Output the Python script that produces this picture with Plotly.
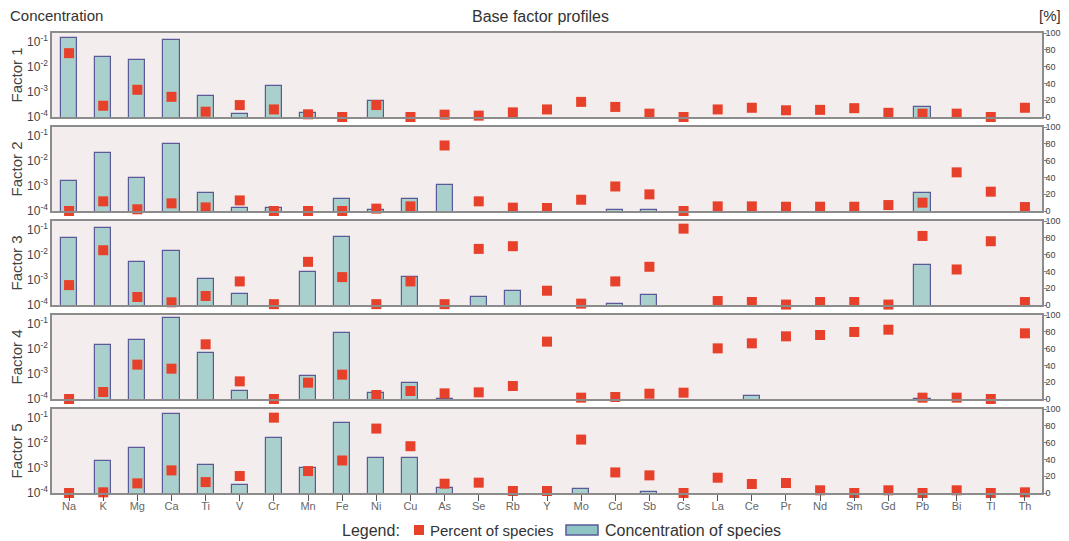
import plotly.graph_objects as go
from plotly.subplots import make_subplots

species = ["Na", "K", "Mg", "Ca", "Ti", "V", "Cr", "Mn", "Fe", "Ni", "Cu", "As", "Se", "Rb",
           "Y", "Mo", "Cd", "Sb", "Cs", "La", "Ce", "Pr", "Nd", "Sm", "Gd", "Pb", "Bi", "Tl", "Th"]
factor_names = ["Factor 1", "Factor 2", "Factor 3", "Factor 4", "Factor 5"]
N = None

# Concentration of species (log scale, left axis)
conc_f1 = [0.14, 0.024, 0.018, 0.115, 6.6e-4, 1.35e-4, 1.7e-3, 1.5e-4, N, 4.5e-4, N, N, N, N,
           N, N, N, N, N, N, N, N, N, N, N, 2.4e-4, N, N, N]
conc_f2 = [1.6e-3, 0.020, 2.0e-3, 0.047, 5.4e-4, 1.28e-4, 1.3e-4, N, 3.1e-4, 1.06e-4, 2.9e-4, 1.1e-3, N, N,
           N, N, 1.1e-4, 1.06e-4, N, N, N, N, N, N, N, 5.1e-4, N, N, N]
conc_f3 = [0.046, 0.117, 5.1e-3, 0.014, 1.1e-3, 2.7e-4, N, 2.0e-3, 0.052, N, 1.3e-3, N, 2.1e-4, 3.5e-4,
           N, N, 1.08e-4, 2.5e-4, N, N, N, N, N, N, N, 4.0e-3, N, N, N]
conc_f4 = [N, 0.014, 0.023, 0.17, 6.7e-3, 2.0e-4, N, 8.1e-4, 0.042, 1.7e-4, 4.4e-4, 1.03e-4, N, N,
           N, N, N, N, N, N, 1.36e-4, N, N, N, N, 1.04e-4, N, N, N]
conc_f5 = [N, 1.8e-3, 6.3e-3, 0.135, 1.3e-3, 2.0e-4, 0.016, 1.0e-3, 0.059, 2.5e-3, 2.5e-3, 1.58e-4, N, N,
           N, 1.5e-4, N, 1.1e-4, N, N, N, N, N, N, N, N, N, N, N]

# Percent of species (right axis, 0-100)
pct_f1 = [76, 13.4, 32.4, 24, 6.3, 14.2, 9, 3.2, 0, 14.2, 0, 2.8, 1.6, 5.5,
          9, 18, 12, 4, 0, 9, 11, 8, 8.5, 10.5, 5, 4, 4, 0, 11]
pct_f2 = [0, 11.5, 2, 9.1, 4.3, 12.6, 0, 0, 0, 2.8, 5.5, 78, 11.5, 4,
          3.6, 13.4, 29.2, 19.8, 0, 5.5, 5.5, 5.1, 5.1, 5.1, 7.1, 9.9, 46, 23, 4.7]
pct_f3 = [23.7, 65.2, 9.5, 3.2, 10.7, 28.1, 1, 51.4, 33.2, 1, 28.1, 1, 66.8, 70,
          17, 1.6, 28.1, 45.5, 90.9, 4.7, 3.6, 0.5, 3.6, 3.6, 0.5, 82.2, 42.3, 75.9, 3.6]
pct_f4 = [0, 8.3, 40.9, 36.1, 65.1, 21, 0, 19.4, 29, 4.8, 9.5, 6.7, 7.9, 15.5,
          68.3, 1.6, 2.4, 6.3, 7.5, 60.3, 66.3, 74.6, 76.2, 79.8, 82.5, 1.6, 1.6, 0, 78.2]
pct_f5 = [0, 0.8, 11.5, 26.9, 13, 20.2, 89.7, 26.1, 38.7, 76.7, 55.7, 11.1, 12.3, 2.4,
          2.4, 63.6, 24.5, 21, 0, 18.2, 10.7, 11.9, 3.2, 0, 3.2, 0, 3.2, 0, 0.8]

conc_all = [conc_f1, conc_f2, conc_f3, conc_f4, conc_f5]
pct_all = [pct_f1, pct_f2, pct_f3, pct_f4, pct_f5]

BAR_FILL = "#a9d0cc"
BAR_LINE = "#5a5a98"
SQ_RED = "#e8412b"
BG = "#f4eded"
FRAME = "#8c8c8c"
TXT = "#444444"
FONT = "Liberation Sans"

# The page body adds an 8px margin; the figure is sized to fit the window.
OFF = 8
W, H = 1069 - OFF, 541 - OFF
mt, mb, ml = 33 - OFF, 48, 52 - OFF
mr = W - (1042 - OFF)
plot_h = H - mt - mb
plot_w = W - ml - mr

fig = make_subplots(rows=5, cols=1, shared_xaxes=True,
                    vertical_spacing=10 / plot_h,
                    specs=[[{"secondary_y": True}]] * 5)

for i in range(5):
    r = i + 1
    fig.add_trace(go.Bar(x=species, y=conc_all[i], width=0.47,
                         marker=dict(color=BAR_FILL, line=dict(color=BAR_LINE, width=1.2)),
                         name="Concentration of species", showlegend=False),
                  row=r, col=1, secondary_y=False)
    fig.add_trace(go.Scatter(x=species, y=pct_all[i], mode="markers",
                             marker=dict(symbol="square", size=10, color=SQ_RED),
                             cliponaxis=False,
                             name="Percent of species", showlegend=False),
                  row=r, col=1, secondary_y=True)

    fig.update_yaxes(type="log", range=[-4, -0.66],
                     tickvals=[1e-4, 1e-3, 1e-2, 1e-1],
                     ticktext=["10<sup>-4</sup>", "10<sup>-3</sup>", "10<sup>-2</sup>", "10<sup>-1</sup>"],
                     tickfont=dict(size=12, color=TXT, family=FONT),
                     showgrid=False, zeroline=False,
                     showline=True, linecolor=FRAME, linewidth=1.5,
                     ticks="", ticklen=0,
                     title=dict(text=factor_names[i], font=dict(size=15, color=TXT, family=FONT), standoff=2),
                     row=r, col=1, secondary_y=False)
    fig.update_yaxes(range=[0, 100], tickvals=[0, 20, 40, 60, 80, 100],
                     tickfont=dict(size=9, color=TXT, family=FONT),
                     ticks="outside", ticklen=3, tickcolor=FRAME,
                     ticklabelstandoff=-3,
                     showgrid=False, zeroline=False,
                     showline=True, linecolor=FRAME, linewidth=1.5,
                     row=r, col=1, secondary_y=True)
    fig.update_xaxes(range=[-0.5, 28.5], domain=[0, 1], showgrid=False, zeroline=False,
                     showline=True, linecolor=FRAME, linewidth=1.5, mirror=True,
                     row=r, col=1)

fig.update_xaxes(ticks="outside", ticklen=6, tickcolor="#555555",
                 ticklabelstandoff=-4,
                 tickfont=dict(size=11, color="#666666", family=FONT),
                 row=5, col=1)


def py(ref_y):
    return 1 - (ref_y - OFF - mt) / plot_h


def pxx(ref_x):
    return (ref_x - OFF - ml) / plot_w


fig.add_annotation(text="Concentration", x=pxx(8), y=py(15), xref="paper", yref="paper",
                   xanchor="left", yanchor="middle", showarrow=False,
                   font=dict(size=15, color="#333333", family=FONT))
fig.add_annotation(text="Base factor profiles", x=pxx(540), y=py(16), xref="paper", yref="paper",
                   xanchor="center", yanchor="middle", showarrow=False,
                   font=dict(size=16, color="#333333", family=FONT))
fig.add_annotation(text="[%]", x=pxx(1050), y=py(15), xref="paper", yref="paper",
                   xanchor="center", yanchor="middle", showarrow=False,
                   font=dict(size=15, color="#333333", family=FONT))

# Manual legend (text + symbols)
LEG_FONT = dict(size=15, color="#333333", family=FONT)
leg_y = py(530)
fig.add_annotation(text="Legend:", x=pxx(340), y=leg_y, xref="paper", yref="paper",
                   xanchor="left", yanchor="middle", showarrow=False,
                   font=dict(size=16, color="#333333", family=FONT))
fig.add_shape(type="rect", xref="paper", yref="paper",
              x0=pxx(414), x1=pxx(424), y0=py(535), y1=py(525),
              fillcolor=SQ_RED, line=dict(width=0))
fig.add_annotation(text="Percent of species", x=pxx(428), y=leg_y, xref="paper", yref="paper",
                   xanchor="left", yanchor="middle", showarrow=False, font=LEG_FONT)
fig.add_shape(type="rect", xref="paper", yref="paper",
              x0=pxx(566), x1=pxx(598), y0=py(535), y1=py(525),
              fillcolor="#8fc4c4", line=dict(color=BAR_LINE, width=1.5))
fig.add_annotation(text="Concentration of species", x=pxx(603), y=leg_y, xref="paper", yref="paper",
                   xanchor="left", yanchor="middle", showarrow=False,
                   font=dict(size=16, color="#333333", family=FONT))

fig.update_layout(
    width=W, height=H,
    margin=dict(t=mt, b=mb, l=ml, r=mr, autoexpand=False),
    paper_bgcolor="white",
    plot_bgcolor=BG,
    bargap=0,
    showlegend=False,
    font=dict(family=FONT),
)

fig.write_html("out.html")
